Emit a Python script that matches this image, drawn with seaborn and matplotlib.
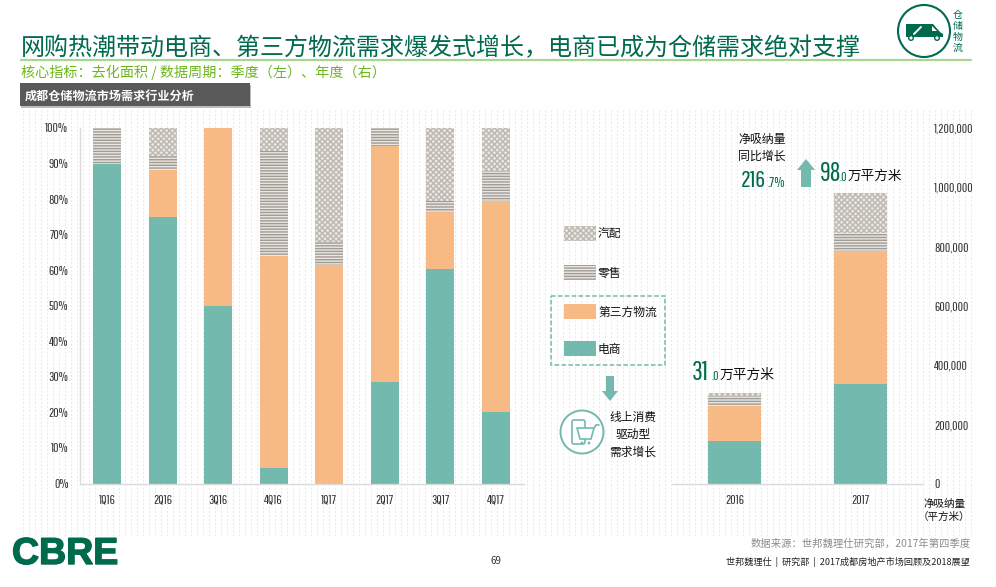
#!/usr/bin/env python3
"""Chengdu logistics demand by industry, quarterly share and yearly net absorption."""

import logging

import matplotlib
matplotlib.use("Agg")
import matplotlib.pyplot as plt
from matplotlib.patches import Circle, FancyBboxPatch, Polygon, Rectangle
import matplotlib.patheffects as pe
import seaborn as sns

logging.getLogger("matplotlib.font_manager").setLevel(logging.ERROR)

quarters = ["1Q16", "2Q16", "3Q16", "4Q16", "1Q17", "2Q17", "3Q17", "4Q17"]
q_ecom = [90, 75, 50, 4.5, 0, 28.5, 60.3, 20]
q_3pl = [0, 13.2, 50, 59.5, 61.5, 66.5, 16.2, 59.5]
q_retail = [10, 3.9, 0, 29.5, 6.5, 5, 3, 8.5]
q_auto = [0, 7.9, 0, 6.5, 32, 0, 20.5, 12]

years = ["2016", "2017"]
y_ecom = [145000, 337000]
y_3pl = [119000, 448000]
y_retail = [32000, 61000]
y_auto = [10000, 134000]

pct_ticks = list(range(0, 101, 10))
area_ticks = [0, 200000, 400000, 600000, 800000, 1000000, 1200000]

series_names = ["电商", "第三方物流", "零售", "汽配"]

TEAL = "#74B9AD"
ORANGE = "#F8BA84"
GREEN = "#006A4D"
HATCH_BG = "#E9E7E3"
GRID = "#E8E8E8"
RETAIL = dict(edgecolor="#A09B93", hatch="------")
AUTO = dict(edgecolor="#BDB8B0", hatch="xxxxxx")
NARROW = ["Pathway Gothic One", "Barlow Condensed", "Roboto Condensed", "Noto Sans", "Noto Sans CJK SC"]
CJK = ["Noto Sans CJK SC", "DejaVu Sans"]
W, H = 996, 587
BAR_W = {8: 0.5, 2: 0.42}

sns.set_theme(style="white")
plt.rcParams["font.family"] = CJK
plt.rcParams["hatch.linewidth"] = 1.0

fig = plt.figure(figsize=(W / 100, H / 100), dpi=100, facecolor="white")


def px_axes(x0, y0, x1, y1, **kw):
    return fig.add_axes([x0 / W, 1 - y1 / H, (x1 - x0) / W, (y1 - y0) / H], **kw)


def stack(ax, cats, layers):
    styles = [dict(color=TEAL), dict(color=ORANGE),
              dict(color=HATCH_BG, **RETAIL), dict(color=HATCH_BG, **AUTO)]
    bottom = [0] * len(cats)
    for vals, st in zip(layers, styles):
        sns.barplot(x=cats, y=vals, bottom=bottom, width=BAR_W[len(cats)], saturation=1,
                    linewidth=0, ax=ax, **st)
        bottom = [b + v for b, v in zip(bottom, vals)]


def narrow_ticks(ax):
    ax.tick_params(axis="both", length=0, pad=8)
    for lab in ax.get_xticklabels() + ax.get_yticklabels():
        lab.set_family(NARROW)
        lab.set_fontsize(9.5)
        lab.set_color("#333333")


def label(x, y, s, size, color="#111111", ha="center", **kw):
    bg.text(x, y, s, fontsize=size, color=color, ha=ha, va="center", zorder=4, **kw)


def number(x, y, s, size):
    bg.text(x, y, s, fontsize=size, color=GREEN, family=NARROW, va="baseline", zorder=4)


# page layer in pixel coordinates
bg = px_axes(0, 0, W, H, zorder=0)
bg.set_xlim(0, W)
bg.set_ylim(H, 0)
bg.axis("off")
for x in range(23, 972, 6):
    bg.plot([x, x], [110, 537], color=GRID, lw=0.7, ls=(0, (2, 2)), zorder=1)

# quarterly share
ax1 = px_axes(79.5, 128, 523.5, 483.5, zorder=1)
ax1.patch.set_alpha(0)
stack(ax1, quarters, [q_ecom, q_3pl, q_retail, q_auto])
ax1.set_xlim(-0.5, 7.5)
ax1.set_ylim(0, 100)
ax1.set_yticks(pct_ticks)
ax1.set_yticklabels([f"{t}%" for t in pct_ticks])
narrow_ticks(ax1)
for side in ["top", "right"]:
    ax1.spines[side].set_visible(False)
for side in ["left", "bottom"]:
    ax1.spines[side].set_color("#DADADA")
    ax1.spines[side].set_linewidth(1.0)

# yearly net absorption
ax2 = px_axes(672, 128, 923, 484, zorder=1)
ax2.patch.set_alpha(0)
stack(ax2, years, [y_ecom, y_3pl, y_retail, y_auto])
ax2.set_xlim(-0.5, 1.5)
ax2.set_ylim(0, 1200000)
ax2.yaxis.tick_right()
ax2.set_yticks(area_ticks)
ax2.set_yticklabels([f"{t:,}" for t in area_ticks])
narrow_ticks(ax2)
for side in ["top", "right", "left"]:
    ax2.spines[side].set_visible(False)
ax2.spines["bottom"].set_color("#DADADA")
ax2.spines["bottom"].set_linewidth(1.0)

# title block
label(21, 48, "网购热潮带动电商、第三方物流需求爆发式增长，电商已成为仓储需求绝对支撑",
      17.3, GREEN, ha="left")
bg.plot([21, 971], [60, 60], color="#A9D68E", lw=1.6, zorder=3)
label(21, 72, "核心指标：去化面积 / 数据周期：季度（左）、年度（右）", 10.15, "#6DB71E", ha="left")
bg.add_patch(Rectangle((21, 85), 230, 23, color="#BDBDBD", lw=0, zorder=3))
bg.add_patch(Rectangle((20, 83), 230, 23, color="#595959", lw=0, zorder=3))
label(25, 96, "成都仓储物流市场需求行业分析", 8.7, "white", ha="left", weight="bold")

# van badge
bg.add_patch(Circle((924, 31), 26, fc="white", ec=GREEN, lw=1.5, zorder=3))
bg.add_patch(Polygon([(906, 24), (933, 24), (940, 32), (943, 34), (943, 37), (906, 37)],
                     color=GREEN, lw=0, zorder=3))
bg.plot([914, 921], [34, 27], color="white", lw=1.4, zorder=4)
bg.add_patch(Polygon([(932, 26), (937, 31), (932, 31)], color="white", lw=0, zorder=4))
for cx in (911, 937):
    bg.add_patch(Circle((cx, 38), 2.3, fc="white", ec=GREEN, lw=1, zorder=4))
for ch, y in zip("仓储物流", [15, 26.5, 37, 47.5]):
    label(958, y, ch, 7.2, GREEN)

# legend
swatches = [
    (226, dict(fc=HATCH_BG, ec=AUTO["edgecolor"], hatch=AUTO["hatch"]), series_names[3]),
    (265, dict(fc=HATCH_BG, ec=RETAIL["edgecolor"], hatch=RETAIL["hatch"]), series_names[2]),
    (304, dict(fc=ORANGE), series_names[1]),
    (341, dict(fc=TEAL), series_names[0]),
]
for y, st, name in swatches:
    bg.add_patch(Rectangle((564, y), 32, 15, lw=0, zorder=3, **st))
    label(598, y + 8, name, 8.5, ha="left")
bg.add_patch(Rectangle((551, 296), 114, 69, fc="none", ec=TEAL, lw=1.1, ls=(0, (3, 1.5)), zorder=3))
bg.add_patch(Polygon([(606, 376), (614, 376), (614, 391), (618, 391), (610, 401), (602, 391), (606, 391)],
                     color=TEAL, lw=0, zorder=3))

# online consumption icon
bg.add_patch(Circle((582, 432), 21.5, fc="white", ec=TEAL, lw=1.4, zorder=3))
bg.add_patch(FancyBboxPatch((572, 420), 13, 24, boxstyle="round,pad=0,rounding_size=2",
                            fc="white", ec=TEAL, lw=1.2, zorder=3))
bg.add_patch(Polygon([(577, 428), (594, 428), (591, 439), (580, 439)], fc="white", ec=TEAL, lw=1.2, zorder=4))
bg.plot([594, 596, 599], [428, 425, 425], color=TEAL, lw=1.2, zorder=4)
for cx in (582, 589):
    bg.add_patch(Circle((cx, 443), 1.4, color=TEAL, lw=0, zorder=4))
for y, s in zip([417, 434, 452], ["线上消费", "驱动型", "需求增长"]):
    label(633, y, s, 8.5)

# callouts
label(762, 139, "净吸纳量", 8.6)
label(762, 156, "同比增长", 8.6)
number(741, 187, "216", 17.5)
number(767, 187, ".7%", 10.5)
bg.add_patch(Polygon([(801, 187), (801, 170), (797, 170), (806, 159), (815, 170), (811, 170), (811, 187)],
                     color=TEAL, lw=0, zorder=3))
number(820, 181, "98", 19)
number(839.5, 181, ".0", 9.5)
label(848, 176, "万平方米", 9.8, ha="left")
number(692, 380, "31", 19)
number(711, 380, ".0", 9.5)
label(720, 375, "万平方米", 9.9, ha="left")

label(944, 504, "净吸纳量", 7.6)
label(944, 517, "（平方米）", 7.6)

# footer
label(971, 544, "数据来源：世邦魏理仕研究部，2017年第四季度", 7.45, "#8C8C8C", ha="right")
label(970, 562, "世邦魏理仕  |  研究部  |  2017成都房地产市场回顾及2018展望", 6.55, "#222222", ha="right")
label(496, 561, "69", 7, "#333333")
label(12, 554, "CBRE", 27, GREEN, ha="left", weight="bold", family=["Liberation Sans", "DejaVu Sans"],
      path_effects=[pe.withStroke(linewidth=1.0, foreground=GREEN)])

fig.savefig("out.png", dpi=100)
